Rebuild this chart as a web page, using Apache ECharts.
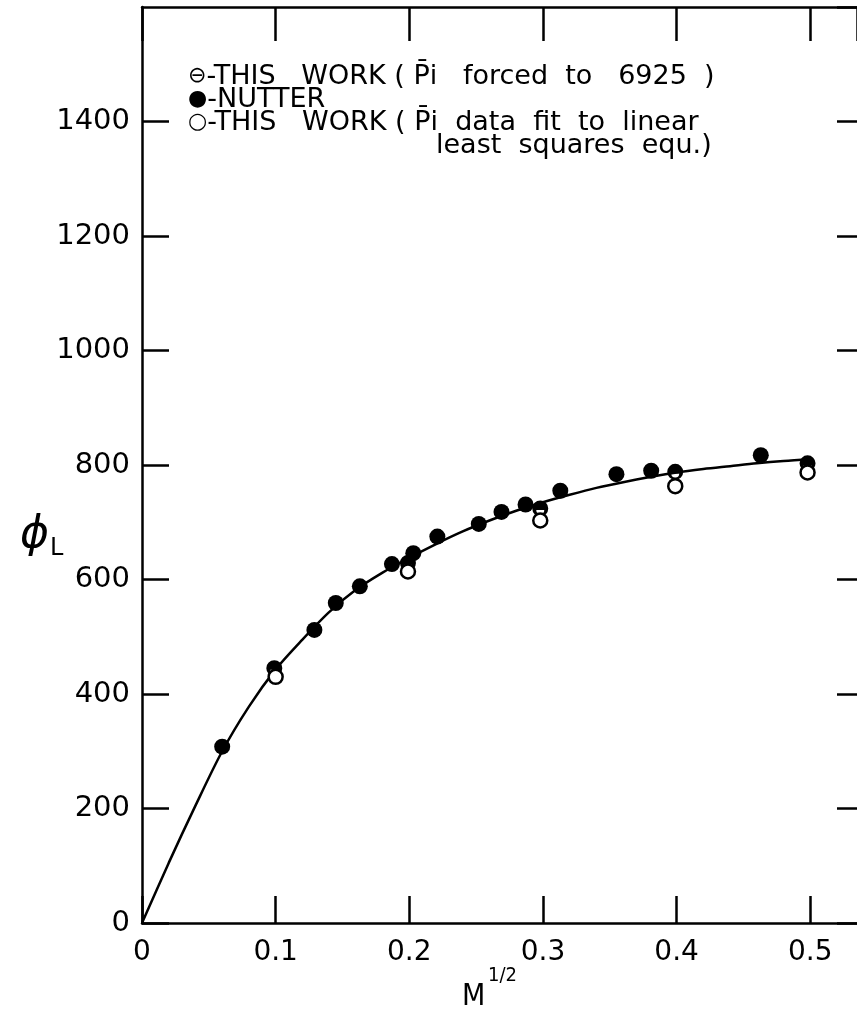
<!DOCTYPE html>
<html>
<head>
<meta charset="utf-8">
<script src="https://cdn.jsdelivr.net/npm/echarts@6/dist/echarts.min.js"></script>
<style>
html, body { margin: 0; padding: 0; background: #fff; }
#chart { width: 857px; height: 1018px; }
</style>
</head>
<body>
<div id="chart"></div>
<script>
// 刻度标签
var xTickLabels = ['0', '0.1', '0.2', '0.3', '0.4', '0.5'];
var yTickLabels = ['0', '200', '400', '600', '800', '1000', '1200', '1400'];

// 拟合曲线
var curveX = [0, 0.02, 0.04, 0.06, 0.08, 0.10, 0.12, 0.14, 0.16, 0.18, 0.20, 0.22, 0.24,
	0.26, 0.28, 0.30, 0.32, 0.34, 0.36, 0.38, 0.40, 0.42, 0.44, 0.46, 0.48, 0.50];
var curveY = [0, 105, 205, 300, 378, 443, 495, 543, 582, 612, 638, 662, 684,
	703, 720, 735, 748, 760, 770, 779, 787, 793, 798, 803, 807, 810];

// NUTTER (实心)
var nutterX = [0.060, 0.129, 0.145, 0.163, 0.187, 0.203, 0.221, 0.252, 0.269, 0.287, 0.313, 0.355, 0.381, 0.463];
var nutterY = [308, 512, 559, 588, 627, 646, 675, 697, 718, 731, 755, 784, 790, 817];

// THIS WORK (Pi forced to 6925)
var forcedX = [0.099, 0.199, 0.298, 0.399, 0.498];
var forcedY = [445, 629, 724, 788, 803];

// THIS WORK (least squares)
var openX = [0.100, 0.199, 0.298, 0.399, 0.498];
var openY = [430, 614, 703, 763, 787];

function pairs(xs, ys) {
	var out = [];
	for (var i = 0; i < xs.length; i++) out.push([xs[i], ys[i]]);
	return out;
}

var myChart = echarts.init(document.getElementById('chart'));
var labelFont = 'DejaVu Sans';
// 上半实心的 ⊖ 符号
var halfSymbol = 'path://M0,10A10,10,0,1,1,20,10A10,10,0,1,1,0,10ZM5,12A5,5,0,0,0,15,12Z';
var blackLine = { color: '#000', width: 2.5 };
// 图例文字样式
var legendRich = {
	s: { fontFamily: 'DejaVu Sans', fontSize: 22, fill: '#000' },
	t: { fontFamily: 'DejaVu Sans', fontSize: 27, fill: '#000' }
};
function legendText(left, top, str) {
	return { type: 'text', left: left, top: top, style: { text: str, rich: legendRich, fill: '#000' } };
}

var option = {
	backgroundColor: '#fff',
	animation: false,
	grid: { left: 142, right: 0, top: 7, bottom: 95 },
	xAxis: [{
		type: 'value', min: 0, max: 0.535, interval: 0.1, position: 'bottom',
		axisLine: { show: true, onZero: false, lineStyle: blackLine },
		axisTick: { show: true, inside: true, length: 27, lineStyle: blackLine },
		axisLabel: {
			showMaxLabel: false, margin: 16, color: '#000', fontFamily: labelFont, fontSize: 28,
			formatter: function(v) {
				var s = String(Math.round(v * 10) / 10);
				return xTickLabels.indexOf(s) >= 0 ? s : '';
			}
		},
		splitLine: { show: false }
	}, {
		type: 'value', min: 0, max: 0.535, interval: 0.1, position: 'top',
		axisLine: { show: true, onZero: false, lineStyle: blackLine },
		axisTick: { show: true, inside: true, length: 34, lineStyle: blackLine },
		axisLabel: { show: false },
		splitLine: { show: false }
	}],
	yAxis: [{
		type: 'value', min: 0, max: 1600, interval: 200, position: 'left',
		axisLine: { show: true, onZero: false, lineStyle: blackLine },
		axisTick: { show: true, inside: true, length: 27, lineStyle: blackLine },
		axisLabel: {
			showMaxLabel: false, margin: 12, color: '#000', fontFamily: labelFont, fontSize: 29,
			formatter: function(v) {
				var s = String(v);
				return yTickLabels.indexOf(s) >= 0 ? s : '';
			}
		},
		splitLine: { show: false }
	}, {
		type: 'value', min: 0, max: 1600, interval: 200, position: 'right',
		axisLine: { show: false, onZero: false },
		axisTick: { show: true, inside: true, length: 20, lineStyle: blackLine },
		axisLabel: { show: false },
		splitLine: { show: false }
	}],
	series: [{
		name: 'curve', type: 'line', smooth: 0.3, showSymbol: false, z: 2,
		lineStyle: { color: '#000', width: 2.5 },
		data: pairs(curveX, curveY)
	}, {
		name: 'NUTTER', type: 'scatter', symbol: 'circle', symbolSize: 16, z: 3,
		itemStyle: { color: '#000', opacity: 1 },
		data: pairs(nutterX, nutterY)
	}, {
		name: 'forced', type: 'scatter', symbol: halfSymbol, symbolSize: 16, z: 4,
		itemStyle: { color: '#000', opacity: 1 },
		data: pairs(forcedX, forcedY)
	}, {
		name: 'lsq', type: 'scatter', symbol: 'circle', symbolSize: 14, z: 5,
		itemStyle: { color: '#fff', borderColor: '#000', borderWidth: 2.5, opacity: 1 },
		data: pairs(openX, openY)
	}],
	graphic: [
		// 图例
		legendText(188, 63, '{s|\u2296}{t|-THIS   WORK ( P\u0304i   forced  to   6925  )}'),
		legendText(188, 86, '{s|\u25CF}{t|-NUTTER}'),
		legendText(188, 109, '{s|\u25CB}{t|-THIS   WORK ( P\u0304i  data  fit  to  linear}'),
		legendText(436, 132, '{t|least  squares  equ.)}'),
		// 轴名
		{ type: 'text', left: 20, top: 514, style: { text: '\u03D5', font: 'italic 44px DejaVu Sans', fill: '#000' } },
		{ type: 'text', left: 50, top: 537, style: { text: 'L', font: '24px DejaVu Sans', fill: '#000' } },
		{ type: 'text', left: 462, top: 982, style: { text: 'M', font: "30px 'DejaVu Sans Condensed', 'DejaVu Sans'", fill: '#000' } },
		{ type: 'text', left: 488, top: 966, style: { text: '1/2', font: "20px 'DejaVu Sans Condensed', 'DejaVu Sans'", fill: '#000' } }
	]
};
myChart.setOption(option);
</script>
</body>
</html>
